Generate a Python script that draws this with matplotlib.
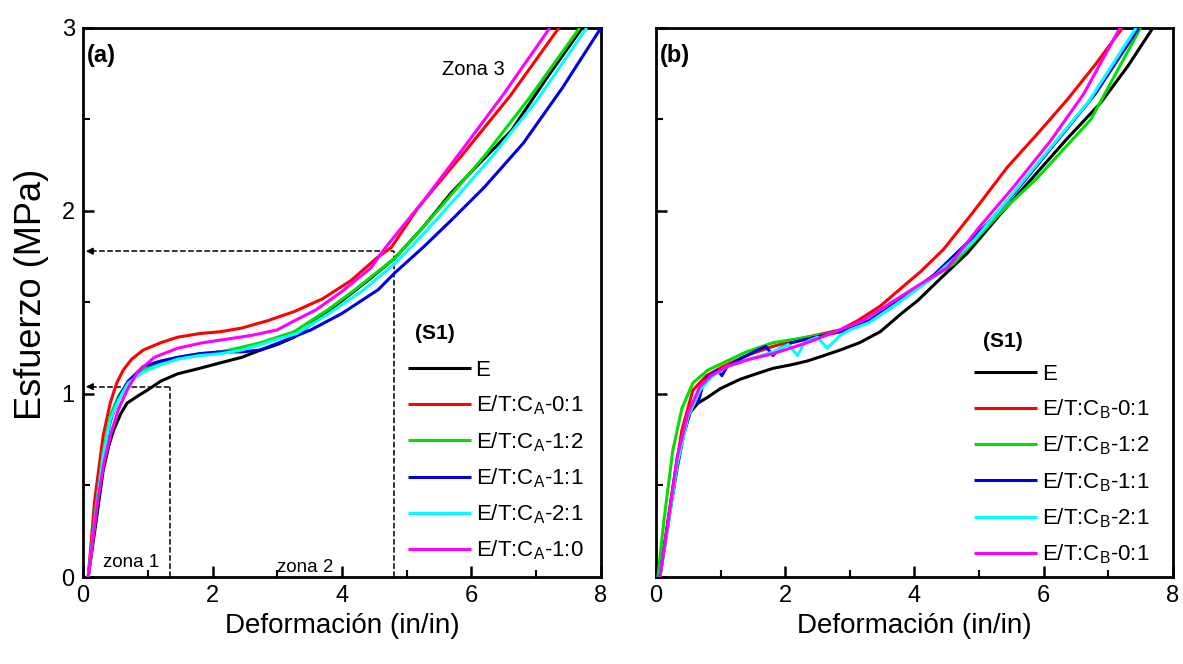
import numpy as np
import matplotlib
matplotlib.use("Agg")
import matplotlib.pyplot as plt

plt.rcParams['font.family'] = ['Liberation Sans', 'DejaVu Sans']
plt.rcParams['mathtext.fontset'] = 'custom'
plt.rcParams['mathtext.rm'] = 'Liberation Sans'

# ---------------- panel (a) data ----------------
a_E_x = [0.08, 0.20, 0.31, 0.40, 0.47, 0.58, 0.68, 0.85, 0.99, 1.2, 1.46, 1.8, 2.12, 2.45, 2.74, 3.0, 3.26, 3.63, 4.0, 4.4, 4.81, 5.25, 5.69, 6.15, 6.62, 7.15, 7.71]
a_E_y = [0.0, 0.30, 0.58, 0.72, 0.80, 0.89, 0.95, 0.99, 1.02, 1.07, 1.11, 1.14, 1.17, 1.20, 1.24, 1.27, 1.31, 1.41, 1.51, 1.62, 1.74, 1.91, 2.10, 2.27, 2.44, 2.72, 3.0]

a_01_x = [0.08, 0.18, 0.31, 0.42, 0.52, 0.62, 0.75, 0.93, 1.2, 1.46, 1.8, 2.12, 2.45, 2.85, 3.26, 3.7, 4.14, 4.56, 4.76, 5.18, 5.89, 6.6, 7.35]
a_01_y = [0.0, 0.42, 0.77, 0.95, 1.06, 1.13, 1.19, 1.24, 1.28, 1.31, 1.33, 1.34, 1.36, 1.40, 1.45, 1.52, 1.62, 1.75, 1.80, 2.02, 2.32, 2.63, 3.0]

a_12_x = [0.08, 0.20, 0.31, 0.42, 0.55, 0.70, 0.93, 1.2, 1.46, 1.8, 2.12, 2.39, 2.74, 3.0, 3.26, 3.78, 4.2, 4.81, 5.25, 5.69, 6.2, 6.9, 7.67]
a_12_y = [0.0, 0.38, 0.68, 0.88, 0.99, 1.07, 1.13, 1.17, 1.20, 1.22, 1.23, 1.25, 1.28, 1.31, 1.34, 1.46, 1.57, 1.74, 1.91, 2.09, 2.30, 2.62, 3.0]

a_11_x = [0.08, 0.20, 0.31, 0.42, 0.55, 0.70, 0.93, 1.2, 1.46, 1.8, 2.12, 2.45, 2.74, 3.1, 3.52, 4.0, 4.56, 4.81, 5.25, 5.69, 6.2, 6.8, 7.4, 8.0]
a_11_y = [0.0, 0.35, 0.65, 0.85, 0.98, 1.07, 1.15, 1.18, 1.20, 1.22, 1.23, 1.23, 1.24, 1.29, 1.35, 1.44, 1.57, 1.66, 1.80, 1.95, 2.13, 2.37, 2.67, 3.0]

a_21_x = [0.08, 0.20, 0.31, 0.42, 0.55, 0.70, 0.93, 1.2, 1.46, 1.8, 2.12, 2.45, 2.74, 3.0, 3.3, 3.8, 4.3, 4.81, 5.3, 5.78, 6.3, 7.0, 7.78]
a_21_y = [0.0, 0.36, 0.66, 0.86, 0.97, 1.06, 1.12, 1.16, 1.19, 1.21, 1.22, 1.24, 1.27, 1.30, 1.33, 1.44, 1.56, 1.71, 1.89, 2.08, 2.29, 2.60, 3.0]

a_10_x = [0.08, 0.22, 0.32, 0.42, 0.55, 0.68, 0.84, 1.1, 1.46, 1.85, 2.23, 2.6, 3.0, 3.21, 3.6, 4.0, 4.45, 4.65, 4.9, 5.27, 5.89, 6.5, 7.21]
a_10_y = [0.0, 0.40, 0.62, 0.77, 0.92, 1.02, 1.12, 1.20, 1.25, 1.28, 1.30, 1.32, 1.35, 1.39, 1.46, 1.56, 1.69, 1.79, 1.90, 2.06, 2.35, 2.64, 3.0]

# ---------------- panel (b) data ----------------
b_E_x = [0.06, 0.20, 0.33, 0.43, 0.53, 0.65, 0.79, 1.0, 1.30, 1.55, 1.81, 2.1, 2.34, 2.6, 2.85, 3.15, 3.47, 3.8, 4.05, 4.4, 4.82, 5.3, 5.85, 6.35, 6.88, 7.3, 7.69]
b_E_y = [0.0, 0.32, 0.60, 0.78, 0.90, 0.95, 0.98, 1.03, 1.08, 1.11, 1.14, 1.16, 1.18, 1.21, 1.24, 1.28, 1.34, 1.44, 1.51, 1.63, 1.77, 1.97, 2.19, 2.39, 2.59, 2.79, 3.0]

b_01_x = [0.06, 0.16, 0.26, 0.40, 0.57, 0.78, 1.04, 1.4, 1.81, 2.2, 2.59, 2.85, 3.12, 3.47, 3.8, 4.1, 4.45, 4.9, 5.44, 5.9, 6.37, 6.8, 7.22]
b_01_y = [0.0, 0.25, 0.49, 0.80, 1.02, 1.10, 1.15, 1.21, 1.26, 1.30, 1.33, 1.35, 1.40, 1.48, 1.58, 1.67, 1.79, 1.99, 2.24, 2.42, 2.61, 2.80, 3.0]

b_12_x = [0.03, 0.12, 0.26, 0.40, 0.57, 0.80, 1.04, 1.4, 1.81, 2.34, 2.85, 3.2, 3.6, 4.1, 4.6, 5.33, 5.9, 6.73, 7.50]
b_12_y = [0.0, 0.30, 0.69, 0.92, 1.06, 1.13, 1.17, 1.23, 1.28, 1.31, 1.34, 1.38, 1.46, 1.59, 1.71, 1.99, 2.18, 2.50, 3.0]

b_11_x = [0.06, 0.18, 0.33, 0.50, 0.60, 0.65, 0.72, 0.79, 0.95, 1.02, 1.10, 1.30, 1.57, 1.70, 1.81, 1.92, 2.1, 2.34, 2.85, 3.3, 3.8, 4.3, 4.8, 5.13, 5.6, 6.2, 6.8, 7.47]
b_11_y = [0.0, 0.28, 0.64, 0.88, 0.97, 0.95, 1.04, 1.09, 1.13, 1.10, 1.15, 1.19, 1.24, 1.26, 1.21, 1.25, 1.28, 1.30, 1.34, 1.40, 1.52, 1.65, 1.82, 1.93, 2.12, 2.38, 2.64, 3.0]

b_21_x = [0.06, 0.18, 0.33, 0.50, 0.68, 0.85, 1.10, 1.45, 1.81, 2.05, 2.19, 2.30, 2.50, 2.65, 2.85, 3.0, 3.3, 3.8, 4.3, 4.9, 5.44, 6.0, 6.7, 7.43]
b_21_y = [0.0, 0.26, 0.62, 0.88, 1.02, 1.09, 1.15, 1.19, 1.23, 1.27, 1.21, 1.28, 1.31, 1.25, 1.32, 1.35, 1.39, 1.51, 1.64, 1.83, 2.06, 2.30, 2.60, 3.0]

b_10_x = [0.06, 0.18, 0.33, 0.50, 0.68, 0.85, 1.10, 1.45, 1.81, 2.34, 2.85, 3.2, 3.6, 4.0, 4.51, 5.0, 5.53, 6.1, 6.62, 7.18]
b_10_y = [0.0, 0.28, 0.66, 0.90, 1.04, 1.10, 1.15, 1.19, 1.22, 1.28, 1.35, 1.40, 1.49, 1.58, 1.69, 1.91, 2.13, 2.38, 2.64, 3.0]

colors = ['black', 'red', '#00e000', '#0000e0', '#00ffff', '#ff00ff']
labels_a = ['E', 'E/T:C$_\\mathregular{A}$-0:1', 'E/T:C$_\\mathregular{A}$-1:2',
            'E/T:C$_\\mathregular{A}$-1:1', 'E/T:C$_\\mathregular{A}$-2:1', 'E/T:C$_\\mathregular{A}$-1:0']
labels_b = ['E', 'E/T:C$_\\mathregular{B}$-0:1', 'E/T:C$_\\mathregular{B}$-1:2',
            'E/T:C$_\\mathregular{B}$-1:1', 'E/T:C$_\\mathregular{B}$-2:1', 'E/T:C$_\\mathregular{B}$-0:1']

series_a = [(a_E_x, a_E_y), (a_01_x, a_01_y), (a_12_x, a_12_y),
            (a_11_x, a_11_y), (a_21_x, a_21_y), (a_10_x, a_10_y)]
series_b = [(b_E_x, b_E_y), (b_01_x, b_01_y), (b_12_x, b_12_y),
            (b_11_x, b_11_y), (b_21_x, b_21_y), (b_10_x, b_10_y)]

# guide lines (zones)
zone1_x, zone1_y = 1.35, 1.04
zone2_x, zone2_y = 4.81, 1.78

fig = plt.figure(figsize=(11.83, 6.64), dpi=100)
ax_a = fig.add_axes([0.0702, 0.131, 0.4378, 0.827])
ax_b = fig.add_axes([0.5545, 0.131, 0.4370, 0.827])


def style_axes(ax, show_ylabels):
    ax.set_xlim(0, 8)
    ax.set_ylim(0, 3)
    ax.set_xticks([0, 2, 4, 6, 8])
    ax.set_xticks([1, 3, 5, 7], minor=True)
    ax.set_yticks([0, 1, 2, 3])
    ax.set_yticks([0.5, 1.5, 2.5], minor=True)
    ax.tick_params(which='major', direction='in', length=8, width=1.8, labelsize=17,
                   top=False, right=False, pad=6)
    ax.tick_params(which='minor', direction='in', length=5, width=1.5, top=False, right=False)
    if not show_ylabels:
        ax.tick_params(axis='y', labelleft=False)
    for s in ax.spines.values():
        s.set_linewidth(2.0)
    ax.set_xlabel('Deformación (in/in)', fontsize=20, labelpad=4)


for ax, series, labels in [(ax_a, series_a, labels_a), (ax_b, series_b, labels_b)]:
    for (xs, ys), c, lab in zip(series, colors, labels):
        ax.plot(xs, ys, color=c, lw=2.2, label=lab, solid_capstyle='butt', zorder=3)

style_axes(ax_a, True)
style_axes(ax_b, False)
ax_a.set_ylabel('Esfuerzo (MPa)', fontsize=26)
ax_a.yaxis.set_label_coords(-0.066, 0.515)

# dashed guides in panel (a)
for gx, gy in [(zone1_x, zone1_y), (zone2_x, zone2_y)]:
    ax_a.plot([gx, gx], [0, gy], ls='--', color='black', lw=1.1, zorder=2)
    ax_a.plot([0.12, gx], [gy, gy], ls='--', color='black', lw=1.1, zorder=2)
    ax_a.annotate('', xy=(0.0, gy), xytext=(0.2, gy),
                  arrowprops=dict(arrowstyle='-|>', color='black', lw=1.1, mutation_scale=10))

ax_a.text(0.31, 0.055, 'zona 1', fontsize=13.5)
ax_a.text(3.0, 0.03, 'zona 2', fontsize=13.5)
ax_a.text(5.55, 2.74, 'Zona 3', fontsize=14.5)

ax_a.text(0.008, 0.949, '(a)', transform=ax_a.transAxes, fontsize=17, fontweight='bold', va='center')
ax_b.text(0.008, 0.949, '(b)', transform=ax_b.transAxes, fontsize=17, fontweight='bold', va='center')

ax_a.text(0.641, 0.444, '(S1)', transform=ax_a.transAxes, fontsize=15, fontweight='bold', va='center')
ax_b.text(0.632, 0.428, '(S1)', transform=ax_b.transAxes, fontsize=15, fontweight='bold', va='center')

for ax, anchor in [(ax_a, (0.627, 0.395)), (ax_b, (0.615, 0.388))]:
    ax.legend(loc='upper left', bbox_to_anchor=anchor, frameon=False, fontsize=16,
              handlelength=2.85, handletextpad=0.2, labelspacing=0.57, borderpad=0,
              borderaxespad=0)

fig.savefig('out.png', dpi=100)
